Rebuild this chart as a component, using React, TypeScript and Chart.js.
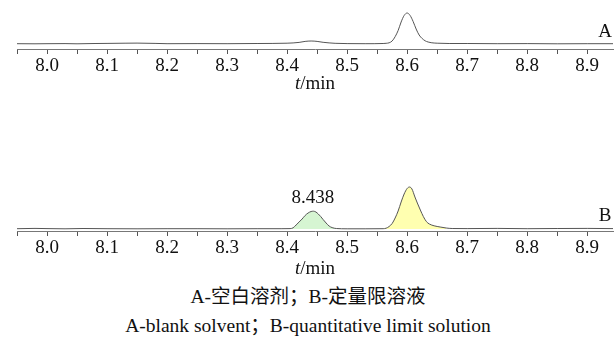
import React, { useEffect, useRef } from 'react';
import { Chart, registerables } from 'chart.js';

Chart.register(...registerables);

// ---- Data (retention time in min, detector response in arbitrary units) ----
const timeA = [7.95, 7.98, 8.0, 8.03, 8.05, 8.08, 8.1, 8.13, 8.15, 8.18, 8.2, 8.25, 8.3, 8.35, 8.4, 8.42, 8.43, 8.44, 8.45, 8.46, 8.48, 8.5, 8.53, 8.56, 8.565, 8.57, 8.575, 8.58, 8.585, 8.59, 8.595, 8.6, 8.605, 8.61, 8.615, 8.62, 8.625, 8.63, 8.635, 8.64, 8.65, 8.67, 8.7, 8.75, 8.8, 8.85, 8.9, 8.943];
const signalA = [0.3, 0.2, 0.3, 0.4, 0.2, 0.5, 0.6, 0.8, 0.9, 0.6, 0.3, 0.4, 0.3, 0.5, 0.8, 1.6, 2.6, 3.0, 2.6, 1.7, 0.7, 0.4, 0.3, 0.5, 0.7, 1.2, 3.0, 7.3, 13.5, 22.0, 28.5, 31.0, 28.5, 22.5, 15.0, 9.0, 5.5, 3.2, 2.0, 1.3, 0.8, 0.5, 0.5, 0.3, 0.4, 0.2, 0.3, 0.3];

const timeB = [7.95, 7.98, 8.0, 8.03, 8.06, 8.1, 8.15, 8.2, 8.25, 8.3, 8.35, 8.39, 8.405, 8.41, 8.415, 8.42, 8.425, 8.43, 8.435, 8.44, 8.444, 8.448, 8.452, 8.456, 8.46, 8.465, 8.47, 8.475, 8.482, 8.5, 8.53, 8.56, 8.565, 8.57, 8.575, 8.58, 8.585, 8.59, 8.595, 8.6, 8.604, 8.608, 8.613, 8.617, 8.622, 8.627, 8.632, 8.637, 8.645, 8.655, 8.665, 8.675, 8.7, 8.75, 8.8, 8.85, 8.9, 8.943];
const signalB = [0.3, 0.6, 0.4, 0.2, 0.5, 0.3, 0.2, 0.3, 0.3, 0.2, 0.3, 0.3, 0.4, 1.2, 4.0, 7.0, 10.0, 13.5, 16.0, 17.5, 17.8, 17.0, 15.0, 12.5, 9.5, 6.0, 3.0, 1.4, 0.5, 0.2, 0.2, 0.3, 0.8, 2.5, 5.5, 11.0, 18.0, 27.0, 35.0, 40.5, 42.0, 40.0, 32.0, 26.0, 19.0, 12.5, 7.5, 5.0, 3.2, 2.0, 1.0, 0.5, 0.4, 0.6, 0.3, 0.5, 0.6, 0.4];

const greenRange = [8.405, 8.482];
const yellowRange = [8.56, 8.665];

const tickValues = [7.95, 8.0, 8.05, 8.1, 8.15, 8.2, 8.25, 8.3, 8.35, 8.4, 8.45, 8.5, 8.55, 8.6, 8.65, 8.7, 8.75, 8.8, 8.85, 8.9];
const tickLabels = ['', '8.0', '', '8.1', '', '8.2', '', '8.3', '', '8.4', '', '8.5', '', '8.6', '', '8.7', '', '8.8', '', '8.9'];

const xMin = 7.95;
const xMax = 8.943;

const peakLabelText = '8.438';
const peakLabelTime = 8.443;
const peakLabelValue = 18.0;

const SERIF = "'Liberation Serif', 'Times New Roman', serif";
const CJK = "'Liberation Serif', 'Noto Sans CJK SC', serif";

type PanelProps = {
  times: number[];
  values: number[];
  fills: { range: number[]; color: string }[];
  yMin: number;
  yMax: number;
  padTop: number;
  height: number;
  letter: string;
  letterValue: number;
  peakLabel?: { text: string; t: number; v: number };
};

function Panel(props: PanelProps) {
  const ref = useRef<HTMLCanvasElement>(null);
  useEffect(() => {
    const canvas = ref.current!;
    const pts = props.times.map((t, i) => ({ x: t, y: props.values[i] }));
    const fillSets = props.fills.map((f) => ({
      data: pts.filter((p) => p.x >= f.range[0] && p.x <= f.range[1]),
      borderWidth: 0,
      borderColor: 'rgba(0,0,0,0)',
      backgroundColor: f.color,
      fill: 'origin',
      pointRadius: 0,
      cubicInterpolationMode: 'monotone' as const,
      order: 2,
    }));
    const labelPlugin = {
      id: 'labels',
      afterDatasetsDraw(chart: any) {
        const ctx = chart.ctx;
        const xs = chart.scales.x;
        const ys = chart.scales.y;
        ctx.save();
        ctx.fillStyle = '#111';
        ctx.font = `19px ${SERIF}`;
        ctx.textAlign = 'center';
        ctx.textBaseline = 'alphabetic';
        ctx.fillText(props.letter, xs.getPixelForValue(8.93), ys.getPixelForValue(props.letterValue));
        if (props.peakLabel) {
          ctx.fillText(
            props.peakLabel.text,
            xs.getPixelForValue(props.peakLabel.t),
            ys.getPixelForValue(props.peakLabel.v) - 8
          );
        }
        ctx.restore();
      },
    };
    const chart = new Chart(canvas, {
      type: 'line',
      data: {
        datasets: [
          {
            data: pts,
            borderColor: '#555',
            borderWidth: 1,
            pointRadius: 0,
            fill: false,
            cubicInterpolationMode: 'monotone',
            order: 1,
          },
          ...fillSets,
        ] as any,
      },
      options: {
        animation: false,
        responsive: false,
        events: [],
        layout: { padding: { left: 17, right: 3, top: props.padTop, bottom: 0 } },
        plugins: { legend: { display: false }, tooltip: { enabled: false } },
        scales: {
          x: {
            type: 'linear',
            min: xMin,
            max: xMax,
            afterBuildTicks: (scale: any) => {
              scale.ticks = tickValues.map((v) => ({ value: v }));
            },
            afterFit: (scale: any) => {
              scale.height = 43;
            },
            border: { display: true, color: '#777', width: 1 },
            grid: { display: true, drawOnChartArea: false, drawTicks: true, tickLength: 5, color: '#555' },
            ticks: {
              autoSkip: false,
              maxRotation: 0,
              padding: 1,
              color: '#111',
              font: { family: SERIF, size: 19 },
              callback: (_v: any, i: number) => tickLabels[i],
            },
          },
          y: {
            display: false,
            min: props.yMin,
            max: props.yMax,
          },
        },
      },
      plugins: [labelPlugin],
    });
    let alive = true;
    if ((document as any).fonts && (document as any).fonts.load) {
      (document as any).fonts
        .load('19px "Liberation Serif"')
        .then(() => {
          if (alive) chart.update();
        })
        .catch(() => {});
    }
    return () => {
      alive = false;
      chart.destroy();
    };
  }, []);
  return <canvas ref={ref} width={616} height={props.height} style={{ display: 'block' }} />;
}

export default function App() {
  return (
    <div style={{ position: 'absolute', left: 0, top: 0, width: 616, height: 345, background: '#fff', overflow: 'hidden' }}>
      <div style={{ position: 'absolute', left: 0, top: 0 }}>
        <Panel
          times={timeA}
          values={signalA}
          fills={[]}
          yMin={-5}
          yMax={34}
          padTop={10}
          height={92}
          letter="A"
          letterValue={7}
        />
      </div>
      <div style={{ position: 'absolute', left: 295, top: 72, fontFamily: SERIF, fontSize: 19, lineHeight: '22px', color: '#111' }}>
        <i>t</i>/min
      </div>
      <div style={{ position: 'absolute', left: 0, top: 172 }}>
        <Panel
          times={timeB}
          values={signalB}
          fills={[
            { range: greenRange, color: '#d6f5d2' },
            { range: yellowRange, color: '#ffffb0' },
          ]}
          yMin={-2}
          yMax={45}
          padTop={12}
          height={102}
          letter="B"
          letterValue={8}
          peakLabel={{ text: peakLabelText, t: peakLabelTime, v: peakLabelValue }}
        />
      </div>
      <div style={{ position: 'absolute', left: 295, top: 257, fontFamily: SERIF, fontSize: 19, lineHeight: '22px', color: '#111' }}>
        <i>t</i>/min
      </div>
      <div style={{ position: 'absolute', left: 0, top: 285, width: 616, textAlign: 'center', fontFamily: CJK, fontSize: 19.5, lineHeight: '24px', color: '#111' }}>
        A-空白溶剂；B-定量限溶液
      </div>
      <div style={{ position: 'absolute', left: 0, top: 314, width: 616, textAlign: 'center', fontFamily: CJK, fontSize: 19.5, lineHeight: '24px', color: '#111' }}>
        A-blank solvent；B-quantitative limit solution
      </div>
    </div>
  );
}
